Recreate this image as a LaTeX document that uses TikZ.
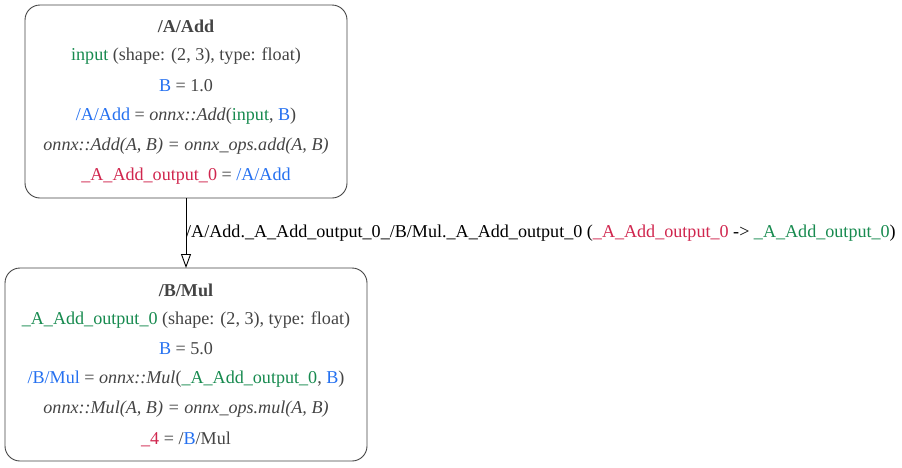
\documentclass[tikz,border=0pt]{standalone}
\usepackage{fontspec}
\setmainfont{Liberation Serif}
\usetikzlibrary{arrows.meta}
\definecolor{txtgray}{HTML}{444444}
\definecolor{vgreen}{HTML}{178A4F}
\definecolor{vblue}{HTML}{2470F0}
\definecolor{vred}{HTML}{D0264E}
\newcommand{\gr}[1]{\textcolor{vgreen}{#1}}
\newcommand{\bl}[1]{\textcolor{vblue}{#1}}
\newcommand{\rd}[1]{\textcolor{vred}{#1}}
\begin{document}
\begin{tikzpicture}[x=1pt,y=-1pt,
  opbox/.style={draw=txtgray, line width=0.9pt, rounded corners=15pt, inner sep=0pt},
  line/.style={text=txtgray, font=\fontsize{18.1pt}{20pt}\selectfont, inner sep=0pt, anchor=center},
  flow/.style={draw=black, line width=0.9pt, -{Triangle[open, length=14pt, width=10pt]}},
  flowlabel/.style={font=\fontsize{18.1pt}{20pt}\selectfont, inner sep=0pt, anchor=west, text=black}]
\useasboundingbox (0,0) rectangle (902,467);
% first operator box
\draw[opbox] (25,5) rectangle (347,198);
\coordinate (addS) at (186,198);
\node[line] (a1) at (186,26) {\textbf{/A/Add}};
\node[line] (a2) at (186,56) {\gr{input} (shape: (2, 3), type: float)};
\node[line] (a3) at (186,86) {\bl{B} = 1.0};
\node[line] (a4) at (186,116) {\bl{/A/Add} = \textit{onnx::Add}(\gr{input}, \bl{B})};
\node[line] (a5) at (186,146) {\textit{onnx::Add(A, B) = onnx\_ops.add(A, B)}};
\node[line] (a6) at (186,176) {\rd{\_A\_Add\_output\_0} = \bl{/A/Add}};
% second operator box
\draw[opbox] (5,268) rectangle (367,461);
\coordinate (mulN) at (186,268);
\node[line] (b1) at (186,290) {\textbf{/B/Mul}};
\node[line] (b2) at (186,320) {\gr{\_A\_Add\_output\_0} (shape: (2, 3), type: float)};
\node[line] (b3) at (186,349) {\bl{B} = 5.0};
\node[line] (b4) at (186,379) {\bl{/B/Mul} = \textit{onnx::Mul}(\gr{\_A\_Add\_output\_0}, \bl{B})};
\node[line] (b5) at (186,409) {\textit{onnx::Mul(A, B) = onnx\_ops.mul(A, B)}};
\node[line] (b6) at (186,439) {\rd{\_4} = /\bl{B}/Mul};
% data flow between the operators
\draw[flow] (addS) -- (mulN);
\node[flowlabel] (lbl) at (186,233) {/A/Add.\_A\_Add\_output\_0\_/B/Mul.\_A\_Add\_output\_0 (\rd{\_A\_Add\_output\_0} -> \gr{\_A\_Add\_output\_0})};
\end{tikzpicture}
\end{document}
